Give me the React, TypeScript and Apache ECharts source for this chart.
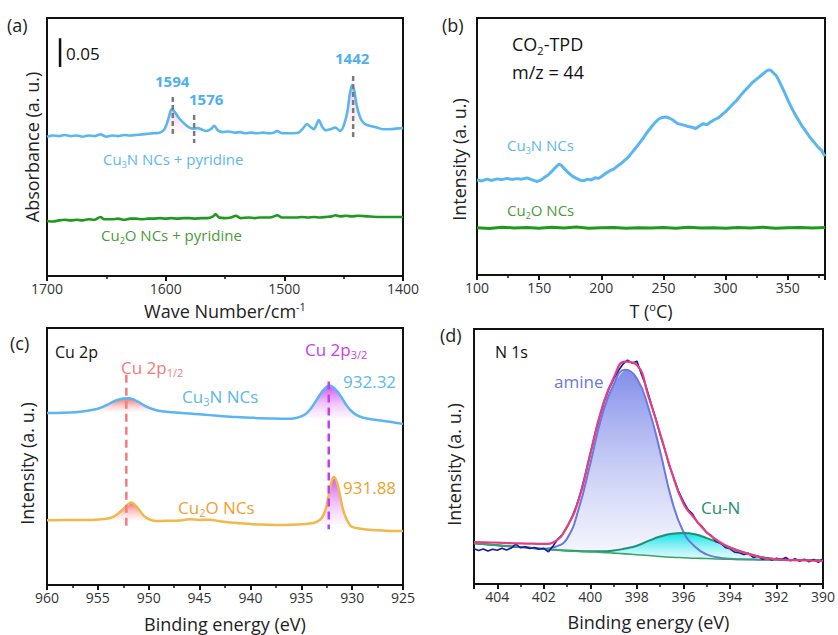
import React, { useEffect, useRef } from 'react';
import * as echarts from 'echarts';

const FONT = "'Open Sans', 'Liberation Sans', Arial, sans-serif";

// ---------- (a) FTIR of adsorbed pyridine ----------
const irCu3N: [number, number][] = [
  [1700, 0.243], [1695, 0.245], [1690, 0.244], [1685, 0.246], [1680, 0.244], [1675, 0.245], [1670, 0.243],
  [1665, 0.245], [1660, 0.244], [1655, 0.247], [1650, 0.243], [1645, 0.245], [1640, 0.244], [1635, 0.246],
  [1630, 0.245], [1625, 0.246], [1620, 0.247], [1615, 0.248], [1610, 0.249], [1605, 0.25], [1601, 0.256],
  [1598, 0.272], [1595, 0.291], [1592, 0.285], [1589, 0.276], [1585, 0.267], [1581, 0.26], [1577, 0.257],
  [1573, 0.258], [1569, 0.255], [1566, 0.253], [1562, 0.256], [1559, 0.262], [1556, 0.254], [1552, 0.251],
  [1547, 0.252], [1542, 0.25], [1537, 0.251], [1533, 0.249], [1528, 0.25], [1523, 0.249], [1518, 0.25],
  [1513, 0.249], [1509, 0.25], [1506, 0.253], [1502, 0.249], [1497, 0.249], [1492, 0.249], [1488, 0.25],
  [1484, 0.258], [1481, 0.265], [1478, 0.26], [1475, 0.256], [1471, 0.272], [1468, 0.26], [1465, 0.254],
  [1461, 0.256], [1457, 0.259], [1453, 0.253], [1450, 0.262], [1447, 0.285], [1445, 0.315], [1443, 0.333],
  [1441, 0.322], [1439, 0.298], [1437, 0.282], [1435, 0.272], [1432, 0.265], [1428, 0.262], [1422, 0.259],
  [1417, 0.256], [1411, 0.256], [1406, 0.257], [1400, 0.258],
];
const irCu2O: [number, number][] = [
  [1700, 0.096], [1695, 0.095], [1690, 0.097], [1685, 0.098], [1680, 0.097], [1675, 0.098], [1670, 0.097],
  [1665, 0.099], [1660, 0.098], [1655, 0.103], [1652, 0.099], [1645, 0.099], [1640, 0.1], [1635, 0.098],
  [1630, 0.1], [1625, 0.1], [1620, 0.099], [1615, 0.1], [1610, 0.1], [1605, 0.101], [1600, 0.1],
  [1595, 0.101], [1590, 0.1], [1585, 0.101], [1580, 0.101], [1575, 0.1], [1570, 0.101], [1565, 0.101],
  [1560, 0.104], [1558, 0.108], [1555, 0.102], [1550, 0.101], [1545, 0.102], [1541, 0.105], [1537, 0.101],
  [1530, 0.102], [1525, 0.101], [1520, 0.102], [1515, 0.102], [1510, 0.103], [1506, 0.106], [1502, 0.102],
  [1495, 0.102], [1490, 0.102], [1485, 0.103], [1480, 0.102], [1475, 0.103], [1470, 0.102], [1465, 0.103],
  [1460, 0.104], [1457, 0.106], [1453, 0.104], [1448, 0.105], [1443, 0.104], [1438, 0.105], [1430, 0.104],
  [1420, 0.103], [1410, 0.103], [1400, 0.103],
];
// peak fill ranges: [from, to, baseline]
const irPeakFill: [number, number, number][] = [[1566, 1601, 0.25], [1428, 1450, 0.256]];
// dashed peak markers: [wavenumber, top, bottom]
const irMarks: [number, number, number][] = [[1594, 0.312, 0.246], [1576, 0.281, 0.232], [1442, 0.349, 0.241]];
const irPeakLabels = ['1594', '1576', '1442'];
const scaleBar = { wave: 1689, base: 0.3645, size: 0.05 };

// ---------- (b) CO2-TPD ----------
const tpdCu3N: [number, number][] = [
  [100, 37.0], [104, 36.6], [108, 37.3], [112, 36.8], [116, 37.4], [120, 37.1], [124, 37.6], [128, 37.2],
  [132, 37.5], [136, 37.3], [140, 37.8], [144, 37.1], [148, 36.4], [151, 36.8], [154, 37.9], [157, 38.8],
  [160, 40.2], [163, 41.8], [166, 43.2], [168, 42.6], [171, 41.0], [174, 39.6], [177, 38.4], [180, 37.6],
  [183, 36.9], [186, 36.7], [189, 37.3], [192, 37.0], [195, 37.8], [198, 37.6], [201, 38.6], [204, 39.7],
  [207, 40.6], [210, 41.2], [213, 42.4], [216, 43.4], [219, 44.7], [222, 46.0], [225, 47.8], [228, 49.6],
  [231, 51.5], [234, 53.4], [237, 55.6], [240, 57.4], [243, 59.2], [246, 60.6], [249, 61.3], [252, 61.5],
  [255, 61.0], [258, 60.2], [261, 59.0], [264, 58.6], [267, 58.2], [270, 57.8], [273, 57.5], [276, 57.0],
  [279, 58.0], [282, 58.9], [285, 58.4], [288, 59.6], [291, 60.4], [294, 61.1], [297, 62.3], [300, 63.6],
  [303, 65.0], [306, 66.6], [309, 68.0], [312, 69.8], [315, 71.5], [318, 73.0], [321, 74.6], [324, 75.8],
  [327, 77.0], [330, 78.2], [333, 79.4], [335, 79.8], [337, 79.4], [339, 78.4], [341, 77.4], [344, 74.6],
  [347, 71.5], [350, 68.2], [353, 65.2], [356, 62.4], [359, 60.0], [362, 57.6], [365, 55.6], [368, 53.5],
  [371, 51.8], [374, 50.0], [377, 48.6], [380, 46.2],
];
const tpdCu2O: [number, number][] = [
  [100, 18.4], [110, 18.1], [120, 18.6], [130, 18.3], [140, 18.5], [150, 18.2], [160, 18.6], [170, 18.3],
  [180, 18.7], [190, 18.2], [200, 18.4], [210, 18.5], [220, 18.2], [230, 18.4], [240, 18.3], [250, 18.5],
  [260, 18.2], [270, 18.6], [280, 18.3], [290, 18.4], [300, 18.2], [310, 18.5], [320, 18.3], [330, 18.6],
  [340, 18.2], [350, 18.4], [360, 18.5], [370, 18.3], [380, 18.5],
];

// ---------- (c) Cu 2p XPS ----------
const cuCu3N: [number, number][] = [
  [960, 66.9], [958.5, 67.0], [957, 67.3], [956, 67.8], [955, 68.6], [954.5, 69.3], [954, 70.3], [953.5, 71.3],
  [953, 72.1], [952.5, 72.6], [952, 72.7], [951.5, 72.2], [951, 71.2], [950.5, 70.0], [950, 69.0], [949.5, 68.3],
  [949, 67.8], [948, 67.3], [947, 67.0], [946, 66.7], [945, 66.4], [944, 66.1], [943, 65.8], [942, 65.5],
  [941, 65.3], [940, 65.1], [939, 64.9], [938, 64.8], [937, 64.7], [936, 64.7], [935.5, 65.0], [935, 65.6],
  [934.5, 66.8], [934, 69.0], [933.5, 72.0], [933, 75.0], [932.6, 76.8], [932.3, 77.6], [932, 77.3],
  [931.5, 75.6], [931, 72.8], [930.5, 69.6], [930, 67.4], [929.5, 66.0], [929, 65.2], [928, 64.4],
  [927, 63.9], [926, 63.3], [925, 62.7],
];
const cuCu2O: [number, number][] = [
  [960, 25.2], [958, 25.3], [956, 25.3], [955, 25.5], [954, 25.9], [953.5, 26.5], [953, 27.8], [952.5, 29.6],
  [952, 31.5], [951.7, 32.1], [951.3, 31.0], [951, 29.6], [950.5, 27.0], [950, 25.6], [949.5, 25.0],
  [949, 24.9], [948, 25.0], [947, 25.1], [946, 25.6], [945, 25.3], [944, 25.4], [943, 24.8], [942, 24.3],
  [941, 24.0], [940, 23.7], [939, 23.5], [938, 23.4], [937, 23.3], [936, 23.4], [935, 23.6], [934, 24.0],
  [933.5, 24.6], [933, 26.0], [932.6, 29.5], [932.3, 35.0], [932, 40.5], [931.8, 42.0], [931.5, 40.0],
  [931.2, 35.0], [931, 31.0], [930.7, 27.0], [930.3, 23.8], [930, 22.6], [929, 21.8], [928, 21.4],
  [927, 21.2], [926, 21.0], [925, 21.0],
];
// [from, to, baseline] fills for 2p1/2 (salmon) and 2p3/2 (violet)
const cu3NFill: [number, number, number][] = [[949, 955.5, 67.3], [929.5, 935.5, 65.0]];
const cu2OFill: [number, number, number][] = [[949.5, 954, 25.0], [930.3, 933.5, 23.6]];
// dashed lines: [energy, top, bottom]
const cuMarks: [number, number, number][] = [[952.2, 81.8, 21.7], [932.3, 79.2, 21.7]];

// ---------- (d) N 1s XPS ----------
const nE = [405, 404.5, 404, 403.5, 403, 402.5, 402, 401.5, 401, 400.5, 400, 399.5, 399, 398.5, 398, 397.5,
  397, 396.5, 396, 395.5, 395, 394.5, 394, 393.5, 393, 392.5, 392, 391.5, 391, 390.5, 390];
const nBackground = [16.0, 15.6, 15.2, 14.8, 14.5, 14.1, 13.7, 13.4, 13.0, 12.8, 12.6, 12.4, 12.1, 11.8, 11.5,
  11.2, 10.8, 10.5, 10.3, 10.1, 10.0, 9.8, 9.7, 9.6, 9.6, 9.5, 9.5, 9.4, 9.4, 9.4, 9.4];
const nAmine = [16.0, 15.6, 15.2, 14.8, 14.5, 14.1, 13.8, 14.6, 17.8, 29.5, 47.3, 66.0, 78.2, 84.0, 80.6,
  69.0, 52.0, 33.0, 20.5, 14.6, 11.6, 10.4, 9.9, 9.7, 9.6, 9.5, 9.5, 9.4, 9.4, 9.4, 9.4];
const nCuN = [16.0, 15.6, 15.2, 14.8, 14.5, 14.1, 13.7, 13.4, 13.1, 12.9, 12.8, 12.8, 13.1, 13.9, 15.0,
  16.9, 18.6, 19.7, 20.0, 19.5, 18.0, 16.3, 14.4, 12.7, 11.3, 10.3, 9.8, 9.5, 9.4, 9.4, 9.4];
const nEnvelope = [16.4, 16.3, 16.2, 16.0, 15.9, 15.8, 15.7, 16.8, 22.5, 33.0, 51.2, 69.0, 80.8, 87.2, 85.9,
  73.5, 59.0, 43.8, 31.6, 25.5, 20.3, 16.8, 14.2, 12.6, 11.3, 10.2, 9.7, 9.4, 9.3, 9.2, 9.1];
const nRawE = [405, 404.8, 404.6, 404.4, 404.2, 404.0, 403.8, 403.6, 403.4, 403.2, 403.0, 402.8, 402.6, 402.4,
  402.2, 402.0, 401.8, 401.6, 401.4, 401.2, 401.0, 400.8, 400.6, 400.4, 400.2, 400.0, 399.8, 399.6, 399.4,
  399.2, 399.0, 398.8, 398.6, 398.4, 398.2, 398.0, 397.8, 397.6, 397.4, 397.2, 397.0, 396.8, 396.6, 396.4,
  396.2, 396.0, 395.8, 395.6, 395.4, 395.2, 395.0, 394.8, 394.6, 394.4, 394.2, 394.0, 393.8, 393.6, 393.4,
  393.2, 393.0, 392.8, 392.6, 392.4, 392.2, 392.0, 391.8, 391.6, 391.4, 391.2, 391.0, 390.8, 390.6, 390.4,
  390.2, 390.0];
const nRawI = [13.8, 13.1, 13.7, 12.9, 13.6, 13.2, 14.0, 13.3, 14.1, 15.6, 14.2, 14.6, 13.9, 14.3, 13.6, 14.0,
  12.6, 14.9, 17.6, 19.4, 22.3, 26.0, 30.6, 36.4, 43.6, 51.0, 58.8, 65.6, 71.8, 76.4, 80.2, 83.6, 86.2, 87.8,
  86.6, 87.4, 82.2, 77.4, 71.2, 65.2, 58.4, 52.8, 46.2, 41.4, 36.2, 32.4, 29.2, 27.4, 24.2, 22.6, 20.1, 19.0,
  16.7, 16.0, 14.3, 13.8, 12.5, 12.3, 11.6, 12.0, 10.4, 10.9, 9.7, 10.3, 9.4, 10.1, 9.5, 10.4, 9.1, 9.9, 8.9,
  9.7, 8.7, 9.6, 8.5, 9.9];

// ---------- colours ----------
const C = {
  blue: '#5ab6f0', blueText: '#5cb8ef', green: '#1f9a1f', greenText: '#4b9a3a',
  orange: '#f2b84a', orangeText: '#f0a12e', salmon: '#f27c7c', violet: '#c93cef',
  gray: '#7a7a7a',
  amine: '#6a78e2', cuN: '#1c9274', bg: '#3aa564', envelope: '#e6407e', raw: '#1616b4',
};

const vgrad = (top: string, bottom: string) => new echarts.graphic.LinearGradient(0, 0, 0, 1, [
  { offset: 0, color: top }, { offset: 1, color: bottom },
]);

const within = (d: [number, number][], a: number, b: number) => d.filter(p => p[0] >= a && p[0] <= b);

function xAxisOf(gi: number, min: number, max: number, interval: number, inverse: boolean, name: string, nameGap: number) {
  return {
    type: 'value', gridIndex: gi, min, max, interval, inverse,
    name, nameLocation: 'middle', nameGap,
    nameTextStyle: {
      fontFamily: FONT, fontSize: 18, color: '#222', lineHeight: 20,
      rich: {
        n: { fontFamily: FONT, fontSize: 18, color: '#222', lineHeight: 20 },
        u: { fontFamily: FONT, fontSize: 11, color: '#222', verticalAlign: 'top', lineHeight: 13 },
      },
    },
    axisLine: { show: true, onZero: false, lineStyle: { color: '#111', width: 2 } },
    axisTick: { show: true, inside: false, length: 5, lineStyle: { color: '#111', width: 2 } },
    minorTick: { show: true, splitNumber: 2, length: 3, lineStyle: { color: '#111', width: 1.5 } },
    axisLabel: {
      fontFamily: FONT, fontSize: 14, color: '#333', margin: 5, lineHeight: 15, showMinLabel: true, showMaxLabel: true,
      formatter: (v: number) => (Math.abs(v / interval - Math.round(v / interval)) < 1e-6 ? String(v) : ''),
    },
    splitLine: { show: false }, minorSplitLine: { show: false },
  };
}

function yAxisOf(gi: number, max: number, nameGap: number, shiftDown: number) {
  return {
    type: 'value', gridIndex: gi, min: 0, max,
    name: gi === 0 ? 'Absorbance (a. u.)' : 'Intensity (a. u.)',
    nameLocation: 'middle', nameGap, nameRotate: 90,
    nameTextStyle: { fontFamily: FONT, fontSize: 18, color: '#222', lineHeight: 20, padding: [0, shiftDown * 2, 0, 0] },
    axisLine: { show: false }, axisTick: { show: false }, axisLabel: { show: false }, splitLine: { show: false },
  };
}

const line = (gi: number, data: any, color: string, width: number, extra: any = {}) => ({
  type: 'line', xAxisIndex: gi, yAxisIndex: gi, data, showSymbol: false, symbol: 'none', silent: true,
  lineStyle: { color, width }, itemStyle: { color }, emphasis: { disabled: true }, ...extra,
});

const fill = (gi: number, data: any, origin: number, top: string, bottom: string) => ({
  type: 'line', xAxisIndex: gi, yAxisIndex: gi, data, showSymbol: false, symbol: 'none', silent: true,
  smooth: 0.3, lineStyle: { width: 0, opacity: 0 }, areaStyle: { origin, color: vgrad(top, bottom), opacity: 1 },
  emphasis: { disabled: true }, z: 1,
});

// filled band between an upper and a lower curve sampled on nE (custom series, drawn through the axes)
const band = (gi: number, upper: number[], lower: number[], top: string, bottom: string, z: number) => ({
  type: 'custom', coordinateSystem: 'cartesian2d', xAxisIndex: gi, yAxisIndex: gi, silent: true, z, clip: true,
  data: [[nE[0], upper[0]]],
  renderItem: (_params: any, api: any) => {
    const pts: number[][] = nE.map((e, i) => api.coord([e, upper[i]]));
    for (let i = nE.length - 1; i >= 0; i--) pts.push(api.coord([nE[i], lower[i]]));
    return { type: 'polygon', shape: { points: pts, smooth: 0.2 }, style: { fill: vgrad(top, bottom), stroke: 'none' } };
  },
});

const dash = (gi: number, m: [number, number, number], color: string, width: number, pattern: number[]) =>
  line(gi, [[m[0], m[1]], [m[0], m[2]]], color, width, { lineStyle: { color, width, type: pattern }, z: 3 });

function richText(x: number, y: number, text: string, size: number, color: string, weight = 'normal') {
  return {
    type: 'text', x, y, silent: true, z: 10,
    style: {
      text, fill: color, fontFamily: FONT, fontSize: size, fontWeight: weight, verticalAlign: 'middle', align: 'left',
      rich: {
        n: { fill: color, fontFamily: FONT, fontSize: size, fontWeight: weight, lineHeight: Math.round(size * 1.3) },
        s: { fill: color, fontFamily: FONT, fontSize: Math.round(size * 0.62), fontWeight: weight, verticalAlign: 'bottom' },
      },
    },
  };
}

function buildOption() {
  const series: any[] = [];
  // (a)
  irPeakFill.forEach(([a, b, o]) => series.push(fill(0, within(irCu3N, a, b), o, 'rgba(244,150,190,0.55)', 'rgba(255,225,238,0.15)')));
  series.push(line(0, irCu3N, C.blue, 2.6, { smooth: 0.25 }));
  series.push(line(0, irCu2O, C.green, 2.6, { smooth: 0.25 }));
  irMarks.forEach(m => series.push(dash(0, m, C.gray, 2.5, [5, 3])));
  series.push(line(0, [[scaleBar.wave, scaleBar.base], [scaleBar.wave, scaleBar.base + scaleBar.size]], '#111', 2.5));
  // (b)
  series.push(line(1, tpdCu3N, C.blue, 3));
  series.push(line(1, tpdCu2O, C.green, 3));
  // (c)
  series.push(fill(2, within(cuCu3N, cu3NFill[0][0], cu3NFill[0][1]), cu3NFill[0][2], 'rgba(242,90,90,0.9)', 'rgba(255,225,225,0.25)'));
  series.push(fill(2, within(cuCu3N, cu3NFill[1][0], cu3NFill[1][1]), cu3NFill[1][2], 'rgba(200,60,240,0.9)', 'rgba(245,215,255,0.25)'));
  series.push(fill(2, within(cuCu2O, cu2OFill[0][0], cu2OFill[0][1]), cu2OFill[0][2], 'rgba(242,90,90,0.9)', 'rgba(255,225,225,0.25)'));
  series.push(fill(2, within(cuCu2O, cu2OFill[1][0], cu2OFill[1][1]), cu2OFill[1][2], 'rgba(200,60,240,0.9)', 'rgba(245,215,255,0.25)'));
  series.push(line(2, cuCu3N, C.blue, 2.5, { smooth: 0.3 }));
  series.push(line(2, cuCu2O, C.orange, 2.5, { smooth: 0.3 }));
  series.push(dash(2, cuMarks[0], C.salmon, 2.5, [8, 5]));
  series.push(dash(2, cuMarks[1], C.violet, 2.5, [8, 5]));
  // (d) fitted components with their fills over the background
  series.push(band(3, nAmine, nBackground, 'rgba(124,136,232,0.95)', 'rgba(242,243,253,0.6)', 1));
  series.push(band(3, nCuN, nBackground, 'rgba(0,226,230,0.95)', 'rgba(225,255,255,0.6)', 2));
  series.push(line(3, nE.map((e, i) => [e, nAmine[i]]), C.amine, 2, { smooth: true, z: 3 }));
  series.push(line(3, nE.map((e, i) => [e, nCuN[i]]), C.cuN, 2, { smooth: true, z: 3 }));
  series.push(line(3, nE.map((e, i) => [e, nBackground[i]]), C.bg, 1.6, { smooth: true, z: 3 }));
  series.push(line(3, nRawE.map((e, i) => [e, nRawI[i]]), C.raw, 1.6, { z: 4 }));
  series.push(line(3, nE.map((e, i) => [e, nEnvelope[i]]), C.envelope, 2.2, { smooth: true, z: 5 }));

  const graphic: any[] = [
    richText(7, 25, '(a)', 18, '#222'),
    richText(442, 25, '(b)', 18, '#222'),
    richText(10, 343, '(c)', 18, '#222'),
    richText(440, 335, '(d)', 18, '#222'),
    // (a)
    richText(66, 53, '0.05', 17, '#111'),
    richText(155, 81, irPeakLabels[0], 15, '#4fb0ee', 'bold'),
    richText(189, 99, irPeakLabels[1], 15, '#4fb0ee', 'bold'),
    richText(335, 58, irPeakLabels[2], 15, '#4fb0ee', 'bold'),
    richText(103, 159, '{n|Cu}{s|3}{n|N NCs + pyridine}', 15, C.blueText),
    richText(101, 235, '{n|Cu}{s|2}{n|O NCs + pyridine}', 15, C.greenText),
    // (b)
    richText(512, 44, '{n|CO}{s|2}{n|-TPD}', 18, '#111'),
    richText(512, 72, 'm/z = 44', 18, '#111'),
    richText(507, 145, '{n|Cu}{s|3}{n|N NCs}', 15, C.blueText),
    richText(507, 210, '{n|Cu}{s|2}{n|O NCs}', 15, C.greenText),
    // (c)
    richText(55, 352, 'Cu 2p', 16, '#111'),
    richText(121, 367, '{n|Cu 2p}{s|1/2}', 17, C.salmon),
    richText(305, 349, '{n|Cu 2p}{s|3/2}', 17, C.violet),
    richText(343, 381, '932.32', 17, C.blueText),
    richText(182, 396, '{n|Cu}{s|3}{n|N NCs}', 17, C.blueText),
    richText(178, 507, '{n|Cu}{s|2}{n|O NCs}', 17, C.orangeText),
    richText(343, 487, '931.88', 17, C.orangeText),
    // (d)
    richText(495, 352, 'N 1s', 16, '#111'),
    richText(554, 381, 'amine', 17, C.amine),
    richText(701, 507, 'Cu-N', 17, C.cuN),
  ];

  const gridBase = { show: true, borderColor: '#111', borderWidth: 2, backgroundColor: 'transparent', containLabel: false };
  return {
    animation: false,
    backgroundColor: '#fff',
    grid: [
      { ...gridBase, left: 47, top: 18, width: 356, height: 258 },
      { ...gridBase, left: 477, top: 18, width: 348, height: 257 },
      { ...gridBase, left: 47, top: 328, width: 356, height: 257 },
      { ...gridBase, left: 474, top: 329, width: 352, height: 255 },
    ],
    xAxis: [
      xAxisOf(0, 1400, 1700, 100, true, '{n|Wave Number/cm}{u|-1}', 25),
      xAxisOf(1, 100, 380, 50, false, '{n|T (}{u|o}{n|C)}', 26),
      xAxisOf(2, 925, 960, 5, true, '{n|Binding energy (eV)}', 29),
      xAxisOf(3, 390, 405, 2, true, '{n|Binding energy (eV)}', 28),
    ],
    yAxis: [
      yAxisOf(0, 0.45, 5, 0),
      yAxisOf(1, 100, 8, 13),
      yAxisOf(2, 100, 10, 7),
      yAxisOf(3, 100, 10, 8),
    ],
    series,
    graphic,
  };
}

export default function App() {
  const ref = useRef<HTMLDivElement>(null);
  useEffect(() => {
    if (!ref.current) return;
    const chart = echarts.init(ref.current, null, { renderer: 'svg' });
    chart.setOption(buildOption() as any);
    return () => chart.dispose();
  }, []);
  return <div ref={ref} style={{ position: 'fixed', left: 0, top: 0, width: 838, height: 635, background: '#fff' }} />;
}
